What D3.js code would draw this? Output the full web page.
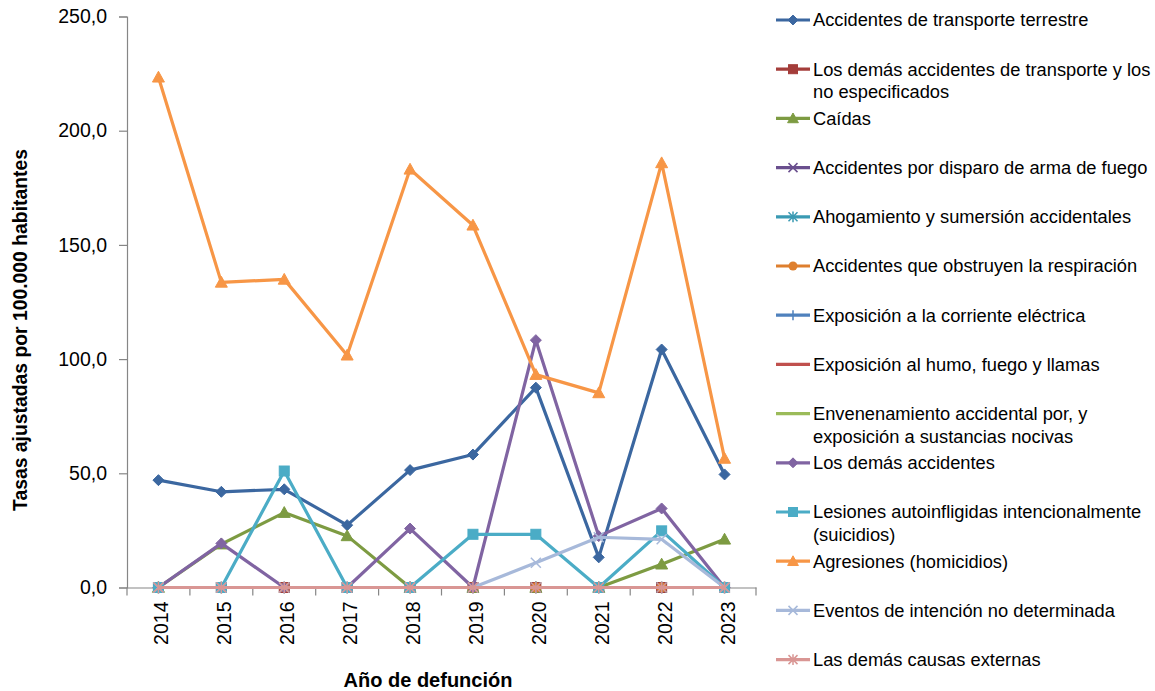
<!DOCTYPE html>
<html><head><meta charset="utf-8">
<script src="https://cdn.jsdelivr.net/npm/d3@7"></script>
<style>
body{margin:0;background:#fff;}
text{font-family:"Liberation Sans",Arial,sans-serif;fill:#000;}
</style></head>
<body><svg id="c" width="1155" height="691"></svg>
<script>
const years = ["2014","2015","2016","2017","2018","2019","2020","2021","2022","2023"];
const seriesNames = [
  "Accidentes de transporte terrestre",
  "Los demás accidentes de transporte y los no especificados",
  "Caídas",
  "Accidentes por disparo de arma de fuego",
  "Ahogamiento y sumersión accidentales",
  "Accidentes que obstruyen la respiración",
  "Exposición a la corriente eléctrica",
  "Exposición al humo, fuego y llamas",
  "Envenenamiento accidental por, y exposición a sustancias nocivas",
  "Los demás accidentes",
  "Lesiones autoinfligidas intencionalmente (suicidios)",
  "Agresiones (homicidios)",
  "Eventos de intención no determinada",
  "Las demás causas externas"
];
const legendLines = [
  ["Accidentes de transporte terrestre"],
  ["Los demás accidentes de transporte y los","no especificados"],
  ["Caídas"],
  ["Accidentes por disparo de arma de fuego"],
  ["Ahogamiento y sumersión accidentales"],
  ["Accidentes que obstruyen la respiración"],
  ["Exposición a la corriente eléctrica"],
  ["Exposición al humo, fuego y llamas"],
  ["Envenenamiento accidental por, y","exposición a sustancias nocivas"],
  ["Los demás accidentes"],
  ["Lesiones autoinfligidas intencionalmente","(suicidios)"],
  ["Agresiones (homicidios)"],
  ["Eventos de intención no determinada"],
  ["Las demás causas externas"]
];
const transporteTerrestre = [47.0, 41.9, 43.0, 27.3, 51.4, 58.2, 87.5, 13.2, 104.2, 49.5];
const demasTransporte     = [0,0,0,0,0,0,0,0,0,0];
const caidas              = [0, 19.0, 32.8, 22.6, 0, 0, 0, 0, 10.2, 21.1];
const disparo             = [0,0,0,0,0,0,0,0,0,0];
const ahogamiento         = [0,0,0,0,0,0,0,0,0,0];
const obstruyen           = [0,0,0,0,0,0,0,0,0,0];
const corriente           = [0,0,0,0,0,0,0,0,0,0];
const humo                = [0,0,0,0,0,0,0,0,0,0];
const envenenamiento      = [0,0,0,0,0,0,0,0,0,0];
const demasAccidentes     = [0, 19.3, 0, 0, 25.8, 0, 108.3, 22.5, 34.6, 0];
const lesiones            = [0, 0, 51.0, 0, 0, 23.3, 23.3, 0, 24.8, 0];
const agresiones          = [223.4, 133.6, 134.9, 101.7, 183.1, 158.6, 93.2, 85.2, 185.9, 56.5];
const eventos             = [0, 0, 0, 0, 0, 0, 10.8, 22.0, 21.1, 0];
const demasCausas         = [0,0,0,0,0,0,0,0,0,0];
const yTicks = [0, 50, 100, 150, 200, 250];

const allValues = [transporteTerrestre, demasTransporte, caidas, disparo, ahogamiento, obstruyen,
  corriente, humo, envenenamiento, demasAccidentes, lesiones, agresiones, eventos, demasCausas];
const colors = ["#3b67a0","#a43d3a","#7d9b42","#6a4f8e","#3a9ab3","#de7f2e",
  "#4f81bd","#c0504d","#9bbb59","#8064a2","#4bacc6","#f79646","#a7b9da","#d99694"];
const markers = ["diamond","square","triangle","x","star","circle","plus","none","none","diamond","square","triangle","x","star"];

const svg = d3.select("#c");
const L = 127, R = 756, T = 16.5, B = 587.5;
const x = d3.scaleBand().domain(years).range([L, R]);
const y = d3.scaleLinear().domain([0, 250]).range([B, T]);
const fmt = v => d3.format(".1f")(v).replace(".", ",");

// Y axis
const yAxis = d3.axisLeft(y).tickValues(yTicks).tickSize(8).tickFormat(fmt).tickPadding(12);
const gy = svg.append("g").attr("transform", `translate(${L},0)`).call(yAxis);
gy.select(".domain").attr("stroke", "#868686").attr("stroke-width", 1.2);
gy.selectAll(".tick line").attr("stroke", "#868686").attr("stroke-width", 1.2);
gy.selectAll(".tick text").style("font-size", "19.5px").style("font-family", "Liberation Sans, Arial").attr("fill", "#000");

// X axis
const xAxis = d3.axisBottom(x).tickSize(0).tickFormat(d => d);
const gx = svg.append("g").attr("transform", `translate(0,${B})`).call(xAxis);
gx.select(".domain").attr("stroke", "#868686").attr("stroke-width", 1.2);
gx.selectAll(".tick text")
  .style("font-size", "19.5px").style("font-family", "Liberation Sans, Arial").attr("fill", "#000")
  .attr("text-anchor", "end")
  .attr("transform", "translate(3,0) rotate(-90)")
  .attr("x", -14).attr("y", 0).attr("dy", "0.36em");
// category boundary ticks
const bounds = years.map(d => x(d)).concat([R]);
svg.append("g").selectAll("line").data(bounds).join("line")
  .attr("x1", d => d).attr("x2", d => d).attr("y1", B).attr("y2", B + 8)
  .attr("stroke", "#868686").attr("stroke-width", 1.2);

// Titles
svg.append("text").attr("transform", `translate(27,${(T + B) / 2 + 28}) rotate(-90)`)
  .attr("text-anchor", "middle").style("font-size", "20px").style("font-weight", "bold")
  .attr("textLength", 362).attr("lengthAdjust", "spacingAndGlyphs")
  .text("Tasas ajustadas por 100.000 habitantes");
svg.append("text").attr("x", 428).attr("y", 687).attr("text-anchor", "middle")
  .style("font-size", "20px").style("font-weight", "bold")
  .text("Año de defunción");

// marker drawing
function drawMarker(g, type, cx, cy, color, s) {
  s = s || 1;
  if (type === "diamond") {
    const r = 5.5 * s;
    g.append("path").attr("d", `M${cx},${cy - r}L${cx + r},${cy}L${cx},${cy + r}L${cx - r},${cy}Z`).attr("fill", color).attr("stroke", color).attr("stroke-width", 1);
  } else if (type === "square") {
    const r = 5 * s;
    g.append("rect").attr("x", cx - r).attr("y", cy - r).attr("width", 2 * r).attr("height", 2 * r).attr("fill", color).attr("stroke", color).attr("stroke-width", 1);
  } else if (type === "triangle") {
    const r = 6 * s;
    g.append("path").attr("d", `M${cx},${cy - r}L${cx + r},${cy + r * 0.8}L${cx - r},${cy + r * 0.8}Z`).attr("fill", color).attr("stroke", color).attr("stroke-width", 1);
  } else if (type === "circle") {
    g.append("circle").attr("cx", cx).attr("cy", cy).attr("r", 5 * s).attr("fill", color);
  } else if (type === "x") {
    const r = 5 * s;
    g.append("path").attr("d", `M${cx - r},${cy - r}L${cx + r},${cy + r}M${cx - r},${cy + r}L${cx + r},${cy - r}`).attr("stroke", color).attr("stroke-width", 1.5).attr("fill", "none");
  } else if (type === "star") {
    const r = 5 * s;
    g.append("path").attr("d", `M${cx - r},${cy - r}L${cx + r},${cy + r}M${cx - r},${cy + r}L${cx + r},${cy - r}M${cx},${cy - r * 1.2}L${cx},${cy + r * 1.2}`).attr("stroke", color).attr("stroke-width", 1.5).attr("fill", "none");
  } else if (type === "plus") {
    const r = 5.5 * s;
    g.append("path").attr("d", `M${cx - r},${cy}L${cx + r},${cy}M${cx},${cy - r}L${cx},${cy + r}`).attr("stroke", color).attr("stroke-width", 1.5).attr("fill", "none");
  }
}

// Series
const line = d3.line().x((d, i) => x(years[i]) + x.bandwidth() / 2).y(d => y(d));
allValues.forEach((vals, si) => {
  const g = svg.append("g");
  g.append("path").datum(vals).attr("d", line).attr("fill", "none")
    .attr("stroke", colors[si]).attr("stroke-width", 3.2).attr("stroke-linejoin", "round");
  vals.forEach((v, i) => drawMarker(g, markers[si], x(years[i]) + x.bandwidth() / 2, y(v), colors[si]));
});

// Legend
const lg = svg.append("g");
legendLines.forEach((lines, i) => {
  const ly = 20 + i * 49.2;
  const g = lg.append("g");
  g.append("line").attr("x1", 776).attr("x2", 810).attr("y1", ly).attr("y2", ly)
    .attr("stroke", colors[i]).attr("stroke-width", 3.2);
  drawMarker(g, markers[i], 793, ly, colors[i], 0.9);
  lines.forEach((t, j) => {
    g.append("text").attr("x", 813).attr("y", ly + j * 22.5).attr("dy", "0.35em")
      .style("font-size", "18.3px").text(t);
  });
});
</script></body></html>
